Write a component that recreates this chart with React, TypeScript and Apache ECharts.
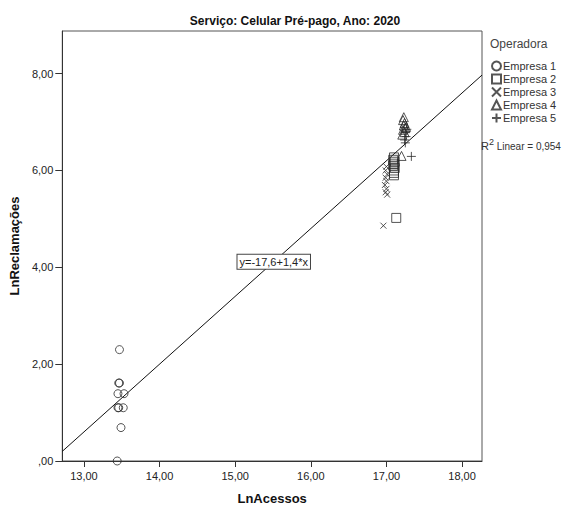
import React, { useEffect, useRef } from "react";
import * as echarts from "echarts";

// LnAcessos / LnReclamações per operator
const empresa1X = [13.47, 13.46, 13.47, 13.45, 13.53, 13.45, 13.46, 13.52, 13.49, 13.44];
const empresa1Y = [2.30, 1.61, 1.61, 1.39, 1.39, 1.10, 1.10, 1.10, 0.69, 0.0];

const empresa2X = [17.10, 17.09, 17.11, 17.10, 17.09, 17.11, 17.10, 17.10, 17.10, 17.13];
const empresa2Y = [6.27, 6.22, 6.18, 6.14, 6.10, 6.05, 6.00, 5.95, 5.90, 5.02];

const empresa3X = [17.00, 16.99, 17.01, 16.99, 17.00, 16.98, 17.00, 16.99, 17.01, 16.96];
const empresa3Y = [6.08, 6.00, 5.92, 5.85, 5.78, 5.70, 5.62, 5.55, 5.50, 4.86];

const empresa4X = [17.23, 17.22, 17.24, 17.23, 17.25, 17.22, 17.24, 17.21, 17.26, 17.20];
const empresa4Y = [7.10, 7.04, 6.98, 6.93, 6.88, 6.84, 6.79, 6.74, 6.90, 6.30];

const empresa5X = [17.27, 17.25, 17.26, 17.24, 17.25, 17.33];
const empresa5Y = [6.85, 6.78, 6.70, 6.63, 6.57, 6.29];

const seriesNames = ["Empresa 1", "Empresa 2", "Empresa 3", "Empresa 4", "Empresa 5"];

// Fitted line y = a + b*x
const intercept = -17.6;
const slope = 1.4;
const rSquared = "0,954";

const xTicks = [13, 14, 15, 16, 17, 18];
const yTicks = [0, 2, 4, 6, 8];
const xRange = [12.714, 18.264];
const yRange = [0, 8.88];

const FONT = "'Liberation Sans', Arial, sans-serif";
const INK = "#2b2b2b";

const crossPath = "path://M0,0L10,10M10,0L0,10";
const plusPath = "path://M5,0L5,10M0,5L10,5";

const fmt = (v: number) => {
  const s = v.toFixed(2).replace(".", ",");
  return s.startsWith("0,") ? s.slice(1) : s;
};

const zip = (xs: number[], ys: number[]) => xs.map((x, i) => [x, ys[i]]);

export default function App() {
  const ref = useRef<HTMLDivElement>(null);

  useEffect(() => {
    if (!ref.current) return;
    const chart = echarts.init(ref.current, undefined, { renderer: "svg" });

    const markerStyle = {
      color: "rgba(0,0,0,0)",
      borderColor: INK,
      borderWidth: 1,
    };
    const fit = (x: number) => intercept + slope * x;
    const labelX = 15.51;

    const scatter = (name: string, xs: number[], ys: number[], symbol: string, size: number) => ({
      name,
      type: "scatter",
      data: zip(xs, ys),
      symbol,
      symbolSize: size,
      itemStyle: markerStyle,
      emphasis: { disabled: true },
      z: 3,
    });

    chart.setOption({
      animation: false,
      textStyle: { fontFamily: FONT },
      title: {
        text: "Serviço: Celular Pré-pago, Ano: 2020",
        left: 290,
        textAlign: "center",
        top: 10,
        textStyle: { fontSize: 12, fontWeight: "bold", color: "#111", fontFamily: FONT },
      },
      grid: {
        left: 60,
        right: 92,
        top: 31,
        bottom: 48,
        show: true,
        borderColor: "#555",
        borderWidth: 1,
        backgroundColor: "#fff",
      },
      xAxis: {
        type: "value",
        min: xRange[0],
        max: xRange[1],
        name: "LnAcessos",
        nameLocation: "middle",
        nameGap: 31,
        nameTextStyle: { fontSize: 13, fontWeight: "bold", color: "#111", fontFamily: FONT },
        axisLine: { show: true, lineStyle: { color: "#333", width: 1 } },
        axisTick: { show: true, length: 6, customValues: xTicks, lineStyle: { color: "#333" } },
        axisLabel: {
          customValues: xTicks,
          formatter: (v: number) => fmt(v),
          fontSize: 11,
          color: "#222",
          margin: 9,
        },
        splitLine: { show: false },
      },
      yAxis: {
        type: "value",
        min: yRange[0],
        max: yRange[1],
        name: "LnReclamações",
        nameLocation: "middle",
        nameGap: 38,
        nameTextStyle: { fontSize: 13, fontWeight: "bold", color: "#111", fontFamily: FONT },
        axisLine: { show: true, lineStyle: { color: "#333", width: 1 } },
        axisTick: { show: true, length: 7, customValues: yTicks, lineStyle: { color: "#333" } },
        axisLabel: {
          customValues: yTicks,
          formatter: (v: number) => fmt(v),
          fontSize: 11,
          color: "#222",
          margin: 9,
        },
        splitLine: { show: false },
      },
      legend: {
        orient: "vertical",
        left: 486,
        top: 55,
        itemWidth: 9,
        itemHeight: 9,
        itemGap: 1,
        data: seriesNames,
        textStyle: {
          fontSize: 11,
          lineHeight: 12,
          color: "#333",
          fontFamily: FONT,
          padding: [0, 0, 0, -3],
        },
      },
      graphic: [
        {
          type: "text",
          left: 490,
          top: 38,
          style: { text: "Operadora", fontSize: 12, fill: "#444", fontFamily: FONT },
        },
        {
          type: "text",
          left: 481,
          top: 137,
          style: {
            text: `{r|R}{s|2}{t| Linear = ${rSquared}}`,
            fill: "#333",
            fontFamily: FONT,
            rich: {
              r: { fontSize: 11, lineHeight: 14, verticalAlign: "bottom", fontFamily: FONT },
              s: { fontSize: 9, lineHeight: 14, verticalAlign: "top", fontFamily: FONT },
              t: { fontSize: 10, lineHeight: 14, verticalAlign: "bottom", fontFamily: FONT },
            },
          },
        },
      ],
      series: [
        scatter(seriesNames[0], empresa1X, empresa1Y, "circle", 8),
        scatter(seriesNames[1], empresa2X, empresa2Y, "rect", 9),
        scatter(seriesNames[2], empresa3X, empresa3Y, crossPath, 6),
        scatter(seriesNames[3], empresa4X, empresa4Y, "triangle", 9),
        scatter(seriesNames[4], empresa5X, empresa5Y, plusPath, 9),
        {
          name: "Linear",
          type: "line",
          data: [
            [xRange[0], fit(xRange[0])],
            [xRange[1], fit(xRange[1])],
          ],
          symbol: "none",
          lineStyle: { color: "#111", width: 1 },
          emphasis: { disabled: true },
          z: 2,
          markPoint: {
            symbol: "rect",
            symbolSize: 0,
            data: [{ coord: [labelX, fit(labelX)] }],
            label: {
              show: true,
              formatter: "y=-17,6+1,4*x",
              position: "inside",
              fontSize: 11,
              color: "#222",
              fontFamily: FONT,
              backgroundColor: "#fff",
              borderColor: "#444",
              borderWidth: 1,
              padding: [2, 2, 1, 2],
            },
            emphasis: { disabled: true },
          },
        },
      ],
    });

    return () => chart.dispose();
  }, []);

  return (
    <div
      ref={ref}
      style={{ position: "fixed", left: 0, top: 0, width: 574, height: 510, background: "#fff" }}
    />
  );
}
